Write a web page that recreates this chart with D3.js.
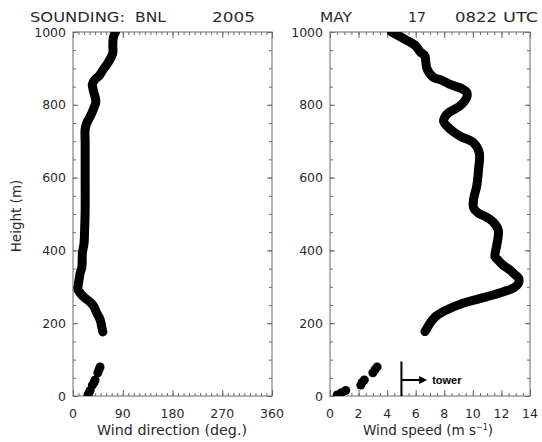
<!DOCTYPE html>
<html>
<head>
<meta charset="utf-8">
<script src="https://cdn.jsdelivr.net/npm/d3@7"></script>
<style>
  body { margin: 0; background: #fff; }
  svg { display: block; }
  text { font-family: "DejaVu Sans", sans-serif; fill: #2a2a2a; }
</style>
</head>
<body>
<svg id="chart" width="542" height="442"></svg>
<script>
// Sounding profile above the gap (height in m, wind direction in degrees)
const dirHeights = [176, 190, 205, 217, 228, 245, 255, 264, 277, 283, 292, 300, 320, 338, 354, 393, 420, 456, 511, 600, 696, 734, 750, 765, 777, 792, 805, 815, 832, 845, 857, 870, 879, 893, 915, 942, 962, 985, 1000];
const dirValues  = [54, 52, 50, 47, 43, 38, 33, 26, 16, 13, 9, 9, 11, 13, 16, 17, 20, 21, 22, 22, 22, 22, 25, 30, 34, 38, 41, 41, 38, 36, 35, 40, 47, 53, 63, 72, 72, 73, 77];

// Sounding profile above the gap (height in m, wind speed in m/s)
const speedHeights = [177, 190, 200, 210, 220, 236, 255, 273, 286, 298, 310, 324, 335, 346, 360, 374, 383, 400, 420, 456, 479, 493, 502, 517, 540, 577, 623, 668, 696, 714, 737, 755, 767, 778, 797, 812, 824, 836, 843, 856, 868, 875, 898, 920, 934, 946, 962, 980, 1000];
const speedValues  = [6.65, 6.85, 7.0, 7.2, 7.45, 8.15, 9.3, 11.0, 12.1, 12.9, 13.2, 13.2, 12.9, 12.6, 12.1, 11.75, 11.55, 11.6, 11.7, 11.78, 11.4, 10.9, 10.4, 10.05, 10.05, 10.27, 10.4, 10.45, 10.05, 9.1, 8.3, 7.95, 8.05, 8.3, 9.1, 9.45, 9.6, 9.55, 9.3, 8.4, 7.8, 7.25, 6.8, 6.7, 6.65, 6.3, 6.0, 5.25, 4.3];

// Near-surface readings below the gap
const nearHeights = [3, 9, 15, 30, 37, 44, 64, 72, 80];
const nearDir     = [27, 29, 31, 35, 38, 40, 45, 47, 49];
const nearSpeed   = [0.5, 0.8, 1.1, 2.15, 2.25, 2.4, 3.0, 3.15, 3.3];

// Axis ticks
const heightTicks = [0, 200, 400, 600, 800, 1000];
const dirTicks = [0, 90, 180, 270, 360];
const speedTicks = [0, 2, 4, 6, 8, 10, 12, 14];

// Tower marker (speed panel): vertical bar at 5 m/s, arrow pointing right
const towerSpeed = 5;
const towerTop = 95;
const towerArrowHeight = 44;
const towerArrowEnd = 6.8;

const svg = d3.select("#chart");
const plotTop = 32, plotBottom = 396;
const y = d3.scaleLinear().domain([0, 1000]).range([plotBottom, plotTop]);
const heightMinor = d3.range(0, 1001, 50);

const panels = [
  { id: "dir", x0: 73, x1: 272, domain: [0, 360], ticks: dirTicks, minor: d3.range(0, 361, 10),
    heights: dirHeights, values: dirValues, near: nearDir },
  { id: "spd", x0: 330, x1: 530, domain: [0, 14], ticks: speedTicks, minor: d3.range(0, 14.01, 0.5),
    heights: speedHeights, values: speedValues, near: nearSpeed }
];

const axisColor = "#6a6a6a";

panels.forEach(p => {
  const x = d3.scaleLinear().domain(p.domain).range([p.x0, p.x1]);
  p.x = x;
  const g = svg.append("g");

  // clip region for the data
  svg.append("clipPath").attr("id", "clip-" + p.id)
    .append("rect").attr("x", p.x0).attr("y", plotTop).attr("width", p.x1 - p.x0).attr("height", plotBottom - plotTop);

  // ticks on all four sides, pointing inward
  const addAxis = (axis, transform) => {
    const a = g.append("g").attr("transform", transform).call(axis);
    a.select(".domain").remove();
    a.selectAll("line").attr("stroke", axisColor);
    a.selectAll("text").remove();
  };
  addAxis(d3.axisBottom(x).tickValues(p.minor).tickSize(-3), `translate(0,${plotBottom})`);
  addAxis(d3.axisBottom(x).tickValues(p.ticks).tickSize(-6), `translate(0,${plotBottom})`);
  addAxis(d3.axisTop(x).tickValues(p.minor).tickSize(-3), `translate(0,${plotTop})`);
  addAxis(d3.axisTop(x).tickValues(p.ticks).tickSize(-6), `translate(0,${plotTop})`);
  addAxis(d3.axisLeft(y).tickValues(heightMinor).tickSize(-3), `translate(${p.x0},0)`);
  addAxis(d3.axisLeft(y).tickValues(heightTicks).tickSize(-5), `translate(${p.x0},0)`);
  addAxis(d3.axisRight(y).tickValues(heightMinor).tickSize(-3), `translate(${p.x1},0)`);
  addAxis(d3.axisRight(y).tickValues(heightTicks).tickSize(-5), `translate(${p.x1},0)`);

  // frame
  g.append("rect").attr("x", p.x0).attr("y", plotTop)
    .attr("width", p.x1 - p.x0).attr("height", plotBottom - plotTop)
    .attr("fill", "none").attr("stroke", axisColor).attr("stroke-width", 1);

  // tick labels
  g.selectAll(".xl").data(p.ticks).join("text")
    .attr("x", d => x(d)).attr("y", 418)
    .attr("text-anchor", "middle").attr("font-size", 12.5)
    .text(d => d);
  g.selectAll(".yl").data(heightTicks).join("text")
    .attr("x", p.x0 - 7).attr("y", d => y(d) + 4.5)
    .attr("text-anchor", "end").attr("font-size", 12.5)
    .text(d => d);

  // profile
  const dc = svg.append("g").attr("clip-path", `url(#clip-${p.id})`);
  const pts = p.heights.map((h, i) => [x(p.values[i]), y(h)]);
  dc.append("path")
    .attr("d", d3.line().curve(d3.curveCatmullRom)(pts))
    .attr("fill", "none").attr("stroke", "#000").attr("stroke-width", 9)
    .attr("stroke-linecap", "round").attr("stroke-linejoin", "round");
  dc.selectAll(".near").data(nearHeights).join("circle")
    .attr("cx", (h, i) => x(p.near[i])).attr("cy", h => y(h)).attr("r", 4.5)
    .attr("fill", "#000");
});

// x axis titles
svg.append("text").attr("x", 172).attr("y", 435).attr("text-anchor", "middle")
  .attr("font-size", 13.5).attr("textLength", 150).attr("lengthAdjust", "spacingAndGlyphs")
  .text("Wind direction (deg.)");
const spdLabel = svg.append("text").attr("x", 363).attr("y", 435)
  .attr("font-size", 13.5);
spdLabel.append("tspan").text("Wind speed (m s");
spdLabel.append("tspan").attr("font-size", 8).attr("dy", -5).text("−1");
spdLabel.append("tspan").attr("dy", 5).text(")");

// y axis title
svg.append("text").attr("transform", "translate(21,216) rotate(-90)")
  .attr("text-anchor", "middle").attr("font-size", 13.5).text("Height (m)");

// header
const header = [
  { t: "SOUNDING:", x: 30, w: 95 },
  { t: "BNL", x: 135, w: 31 },
  { t: "2005", x: 212, w: 43 },
  { t: "MAY", x: 320, w: 32 },
  { t: "17", x: 408, w: 18 },
  { t: "0822", x: 455, w: 42 },
  { t: "UTC", x: 503, w: 35 }
];
svg.selectAll(".hd").data(header).join("text")
  .attr("x", d => d.x).attr("y", 21.5).attr("font-size", 14)
  .attr("textLength", d => d.w).attr("lengthAdjust", "spacingAndGlyphs")
  .text(d => d.t);

// tower marker
const xs = panels[1].x;
svg.append("line")
  .attr("x1", xs(towerSpeed)).attr("x2", xs(towerSpeed))
  .attr("y1", y(0)).attr("y2", y(towerTop))
  .attr("stroke", "#000").attr("stroke-width", 2);
svg.append("line")
  .attr("x1", xs(towerSpeed)).attr("x2", xs(towerArrowEnd) - 6)
  .attr("y1", y(towerArrowHeight)).attr("y2", y(towerArrowHeight))
  .attr("stroke", "#000").attr("stroke-width", 2);
const ax = xs(towerArrowEnd), ay = y(towerArrowHeight);
svg.append("path")
  .attr("d", `M${ax},${ay} L${ax - 8},${ay - 4} L${ax - 8},${ay + 4} Z`)
  .attr("fill", "#000");
svg.append("text").attr("x", ax + 5).attr("y", ay + 4)
  .style("font-family", "'Liberation Sans', Arial, sans-serif")
  .attr("font-weight", "bold").attr("font-size", 11).style("fill", "#000")
  .text("tower");
</script>
</body>
</html>
